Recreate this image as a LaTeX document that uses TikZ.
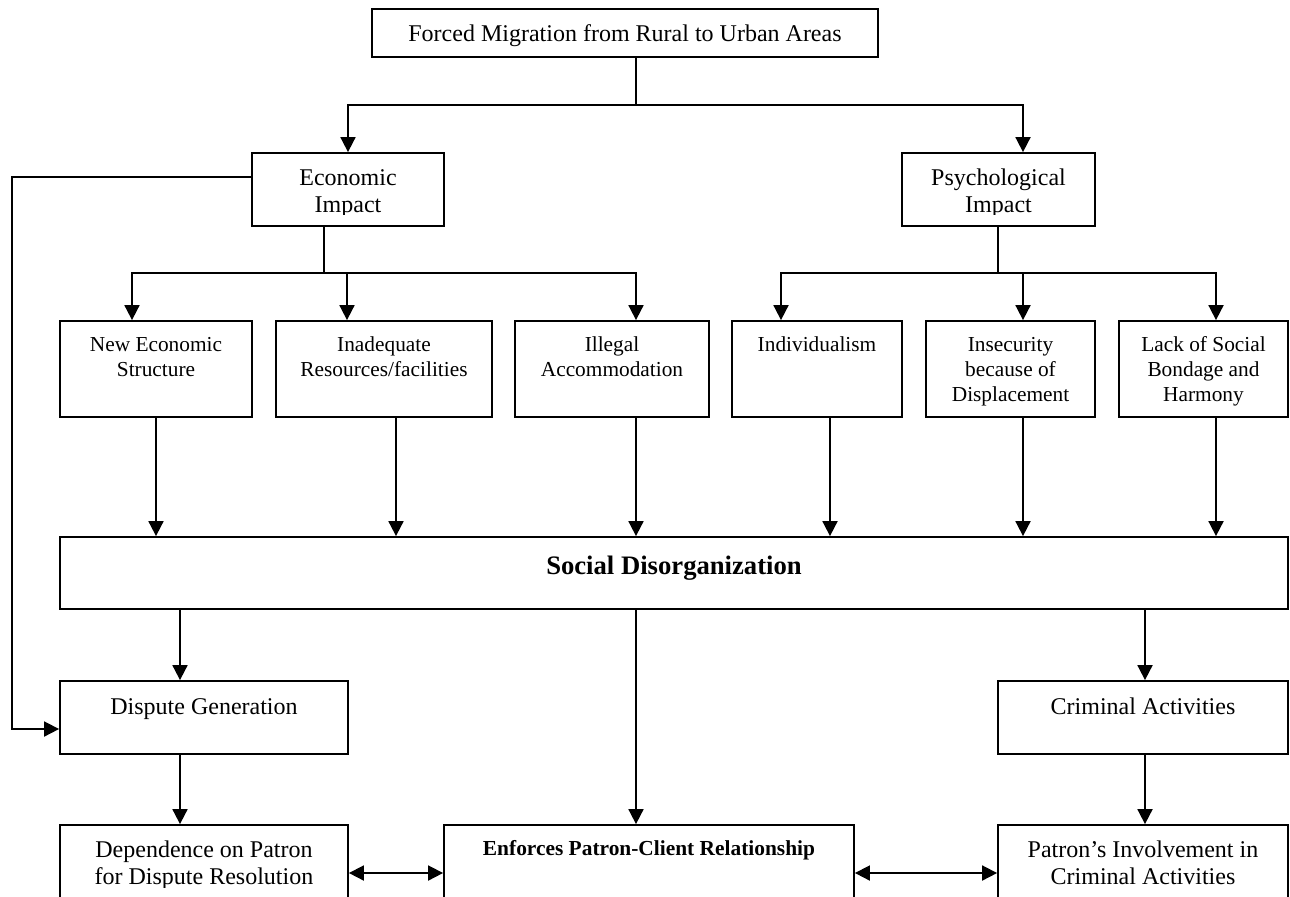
\documentclass[tikz,border=0pt]{standalone}
\usepackage{fontspec}
\setmainfont{Liberation Serif}
\usetikzlibrary{arrows.meta,fit,calc}
% centred lines whose baseline is that of the first line
\newcommand{\boxlines}[1]{\begin{tabular}[t]{@{}c@{}}#1\end{tabular}}

\begin{document}
\begin{tikzpicture}[x=0.5pt,y=-0.5pt,
  box/.style={draw, line width=0.9pt, inner sep=0pt},
  txt/.style={inner sep=0pt, anchor=base, font=\fontsize{12}{13.4}\selectfont},
  small/.style={txt, font=\fontsize{10.67}{12.5}\selectfont},
  conn/.style={line width=0.9pt},
  arr/.style={conn, -{Triangle[length=7.5pt,width=7.5pt]}},
  darr/.style={conn, {Triangle[length=7.5pt,width=7.5pt]}-{Triangle[length=7.5pt,width=7.5pt]}}]
\useasboundingbox (0,0) rectangle (1290,896);
\clip (0,0) rectangle (1290,896);

% ---- boxes ----
\node[box, fit={(372,9)(878,57)}]      (top)   {};
\node[box, fit={(252,153)(444,226)}]   (econ)  {};
\node[box, fit={(902,153)(1095,226)}]  (psych) {};
\node[box, fit={(60,321)(252,417)}]    (nes)   {};
\node[box, fit={(276,321)(492,417)}]   (inr)   {};
\node[box, fit={(515,321)(709,417)}]   (ilg)   {};
\node[box, fit={(732,321)(902,417)}]   (ind)   {};
\node[box, fit={(926,321)(1095,417)}]  (ins)   {};
\node[box, fit={(1119,321)(1288,417)}] (lack)  {};
\node[box, fit={(60,537)(1288,609)}]   (soc)   {};
\node[box, fit={(60,681)(348,754)}]    (dg)    {};
\node[box, fit={(998,681)(1288,754)}]  (crim)  {};
\node[box, fit={(60,825)(348,960)}]    (dep)   {};
\node[box, fit={(444,825)(854,960)}]   (enf)   {};
\node[box, fit={(998,825)(1288,960)}]  (pat)   {};

% ---- texts ----
\node[txt] (top-t) at ($(top.north)+(0,33.7)$) {Forced Migration from Rural to Urban Areas};
\begin{scope}
  \clip (252,153) rectangle (1095,214);
  \node[txt, font=\fontsize{12}{13.35}\selectfont] (econ-t)  at ($(econ.north)+(0,33.7)$)  {\boxlines{Economic\\Impact}};
  \node[txt, font=\fontsize{12}{13.35}\selectfont] (psych-t) at ($(psych.north)+(0,33.7)$) {\boxlines{Psychological\\Impact}};
\end{scope}
\node[small] (nes-t)  at ($(nes.north)+(0,31.7)$)  {\boxlines{New Economic\\Structure}};
\node[small] (inr-t)  at ($(inr.north)+(0,31.7)$)  {\boxlines{Inadequate\\Resources/facilities}};
\node[small] (ilg-t)  at ($(ilg.north)+(0,31.7)$)  {\boxlines{Illegal\\Accommodation}};
\node[small] (ind-t)  at ($(ind.north)+(0,31.7)$)  {Individualism};
\node[small] (ins-t)  at ($(ins.north)+(0,31.7)$)  {\boxlines{Insecurity\\because of\\Displacement}};
\node[small] (lack-t) at ($(lack.north)+(0,31.7)$) {\boxlines{Lack of Social\\Bondage and\\Harmony}};
\node[txt, font=\fontsize{13.33}{16}\bfseries\selectfont] (soc-t) at ($(soc.north)+(0,38)$) {Social Disorganization};
\node[txt] (dg-t)   at ($(dg.north)+(0,34)$)   {Dispute Generation};
\node[txt] (crim-t) at ($(crim.north)+(0,34)$) {Criminal Activities};
\node[txt, font=\fontsize{10.7}{13}\bfseries\selectfont] (enf-t) at ($(enf.north)+(0,31.7)$) {Enforces Patron-Client Relationship};
\begin{scope}
  \clip (60,825) rectangle (1288,887);
  \node[txt, font=\fontsize{12}{13.7}\selectfont] (dep-t) at ($(dep.north)+(0,33.3)$) {\boxlines{Dependence on Patron\\for Dispute Resolution}};
  \node[txt, font=\fontsize{12}{13.7}\selectfont] (pat-t) at ($(pat.north)+(0,33.3)$) {\boxlines{Patron’s Involvement in\\Criminal Activities}};
\end{scope}

% ---- junctions and columns ----
\coordinate (j0) at (636,105);
\coordinate (je) at (324,273);
\coordinate (jp) at (998,273);
\coordinate (cp)  at (1023,0);
\coordinate (a1) at (132,0);  \coordinate (a2) at (347,0);  \coordinate (a3) at (636,0);
\coordinate (b1) at (781,0);  \coordinate (b2) at (1023,0); \coordinate (b3) at (1216,0);
\coordinate (d1) at (156,0);  \coordinate (d2) at (396,0);  \coordinate (d3) at (636,0);
\coordinate (d4) at (830,0);  \coordinate (d5) at (1023,0); \coordinate (d6) at (1216,0);
\coordinate (e1) at (180,0);  \coordinate (e2) at (1145,0);
\coordinate (l1) at (12,177); \coordinate (l2) at (12,729);
\coordinate (yd) at (0,873);

% ---- connectors ----
\draw[conn] (top.south -| j0) -- (j0);
\draw[arr] (j0) -| (econ.north);
\draw[arr] (j0) -| (psych.north -| cp);

\draw[conn] (econ.south -| je) -- (je);
\draw[arr] (je) -| (nes.north -| a1);
\draw[arr] (je) -| (inr.north -| a2);
\draw[arr] (je) -| (ilg.north -| a3);

\draw[conn] (psych.south -| jp) -- (jp);
\draw[arr] (jp) -| (ind.north -| b1);
\draw[arr] (jp) -| (ins.north -| b2);
\draw[arr] (jp) -| (lack.north -| b3);

\draw[arr] (nes.south -| d1)  -- (soc.north -| d1);
\draw[arr] (inr.south -| d2)  -- (soc.north -| d2);
\draw[arr] (ilg.south -| d3)  -- (soc.north -| d3);
\draw[arr] (ind.south -| d4)  -- (soc.north -| d4);
\draw[arr] (ins.south -| d5)  -- (soc.north -| d5);
\draw[arr] (lack.south -| d6) -- (soc.north -| d6);

\draw[arr] (soc.south -| e1) -- (dg.north -| e1);
\draw[arr] (dg.south -| e1)  -- (dep.north -| e1);
\draw[arr] (soc.south -| d3) -- (enf.north -| d3);
\draw[arr] (soc.south -| e2) -- (crim.north -| e2);
\draw[arr] (crim.south -| e2) -- (pat.north -| e2);

\draw[arr] (econ.west |- l1) -- (l1) -- (l2) -- (dg.west |- l2);

\draw[darr] (dep.east |- yd) -- (enf.west |- yd);
\draw[darr] (enf.east |- yd) -- (pat.west |- yd);
\end{tikzpicture}
\end{document}
